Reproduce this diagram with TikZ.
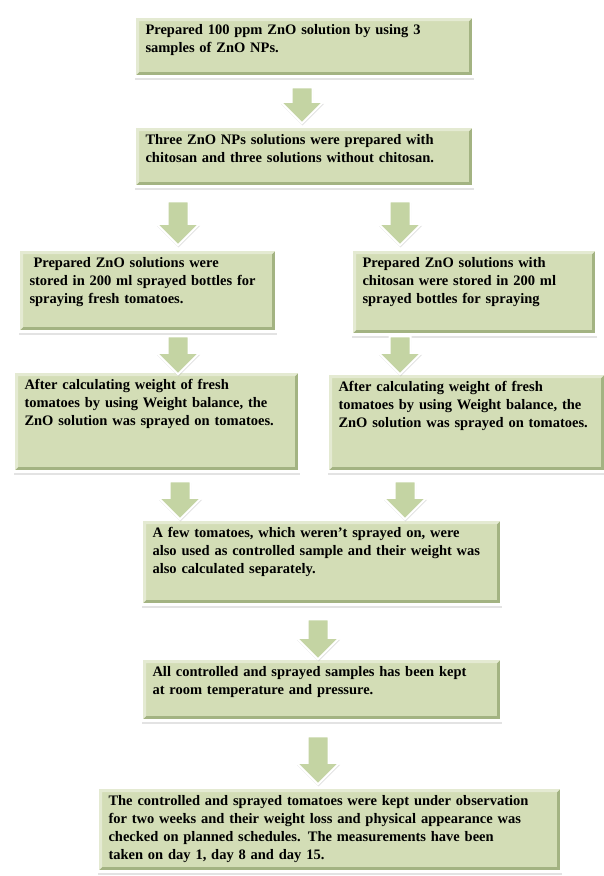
\documentclass[tikz,border=0pt]{standalone}
\usepackage{fontspec}
\setmainfont{Liberation Serif}
\usetikzlibrary{positioning,shapes.arrows,shadows}
\definecolor{stagefill}{HTML}{D3DDB6}
\definecolor{stagedark}{HTML}{A3B382}
\definecolor{stagelight}{HTML}{E4EAD2}
\definecolor{arrowfill}{HTML}{C4D4A3}
\tikzset{
  stage/.style={anchor=north west, fill=stagefill, draw=white, line width=3pt, inner xsep=11pt, inner ysep=8pt, text height=10pt, align=left,
    font=\fontsize{14.5}{18}\selectfont\bfseries,
    drop shadow={shadow xshift=0.8pt, shadow yshift=-3.5pt, opacity=0.22, fill=gray},
    path picture={
      \fill[stagedark] (path picture bounding box.south west) -- (path picture bounding box.south east) -- (path picture bounding box.north east)
        -- ([xshift=-4.5pt,yshift=-4.5pt]path picture bounding box.north east) -- ([xshift=-4.5pt,yshift=4.5pt]path picture bounding box.south east)
        -- ([xshift=4.5pt,yshift=4.5pt]path picture bounding box.south west) -- cycle;
      \fill[stagelight] (path picture bounding box.south west) -- (path picture bounding box.north west) -- (path picture bounding box.north east)
        -- ([xshift=-4.5pt,yshift=-4.5pt]path picture bounding box.north east) -- ([xshift=4.5pt,yshift=-4.5pt]path picture bounding box.north west)
        -- ([xshift=4.5pt,yshift=4.5pt]path picture bounding box.south west) -- cycle;
    }},
  downarrow/.style={single arrow, shape border rotate=270, fill=arrowfill, draw=white, line width=2pt, inner sep=9.5pt,
    single arrow head extend=11pt, drop shadow={shadow xshift=0.5pt, shadow yshift=-2pt, opacity=0.25, fill=gray}}
}
\begin{document}
\begin{tikzpicture}[x=1pt, y=-1pt]
  \useasboundingbox[fill=white] (0,0) rectangle (603,876);
  \node[stage, text width=317pt, text depth=34pt] (prep) at (133,15) {Prepared 100 ppm ZnO solution by using 3\\samples of ZnO NPs.};
  \node[stage, text width=317pt, text depth=34pt] (split) at (133,125) {Three ZnO NPs solutions were prepared with\\chitosan and three solutions without chitosan.};
  \node[stage, text width=236pt, text depth=56pt] (plainstore) at (17,248) {\hspace{4pt}Prepared ZnO solutions were\\stored in 200 ml sprayed bottles for\\spraying fresh tomatoes.};
  \node[stage, text width=223pt, text depth=59pt] (chitostore) at (350,248) {Prepared ZnO solutions with\\chitosan were stored in 200 ml\\sprayed bottles for spraying};
  \node[stage, text width=264pt, text depth=74pt] (plainspray) at (12,370) {After calculating weight of fresh\\tomatoes by using Weight balance, the\\ZnO solution was sprayed on tomatoes.};
  \node[stage, text width=256pt, text depth=72pt] (chitospray) at (326,372) {After calculating weight of fresh\\tomatoes by using Weight balance, the\\ZnO solution was sprayed on tomatoes.};
  \node[stage, text width=338pt, text depth=59pt] (control) at (140,518) {A few tomatoes, which weren’t sprayed on, were\\also used as controlled sample and their weight was\\also calculated separately.};
  \node[stage, text width=338pt, text depth=36pt] (storage) at (140,657) {All controlled and sprayed samples has been kept\\at room temperature and pressure.};
  \node[stage, text width=442pt, text depth=58pt] (observe) at (96,786) {The controlled and sprayed tomatoes were kept under observation\\for two weeks and their weight loss and physical appearance was\\checked on planned schedules. The measurements have been\\taken on day 1, day 8 and day 15.};
  \node[downarrow, minimum height=36pt] (toSplit) at (302,100) {};
  \node[downarrow, minimum height=44pt] (toPlainStore) at (178,218) {};
  \node[downarrow, minimum height=44pt] (toChitoStore) at (400,218) {};
  \node[downarrow, minimum height=38pt] (toPlainSpray) at (178,350) {};
  \node[downarrow, minimum height=38pt] (toChitoSpray) at (400,350) {};
  \node[downarrow, minimum height=38pt] (plainToControl) at (180,495) {};
  \node[downarrow, minimum height=38pt] (chitoToControl) at (405,495) {};
  \node[downarrow, minimum height=40pt] (toStorage) at (318,634) {};
  \node[downarrow, minimum height=48pt] (toObserve) at (318,755) {};
\end{tikzpicture}
\end{document}
